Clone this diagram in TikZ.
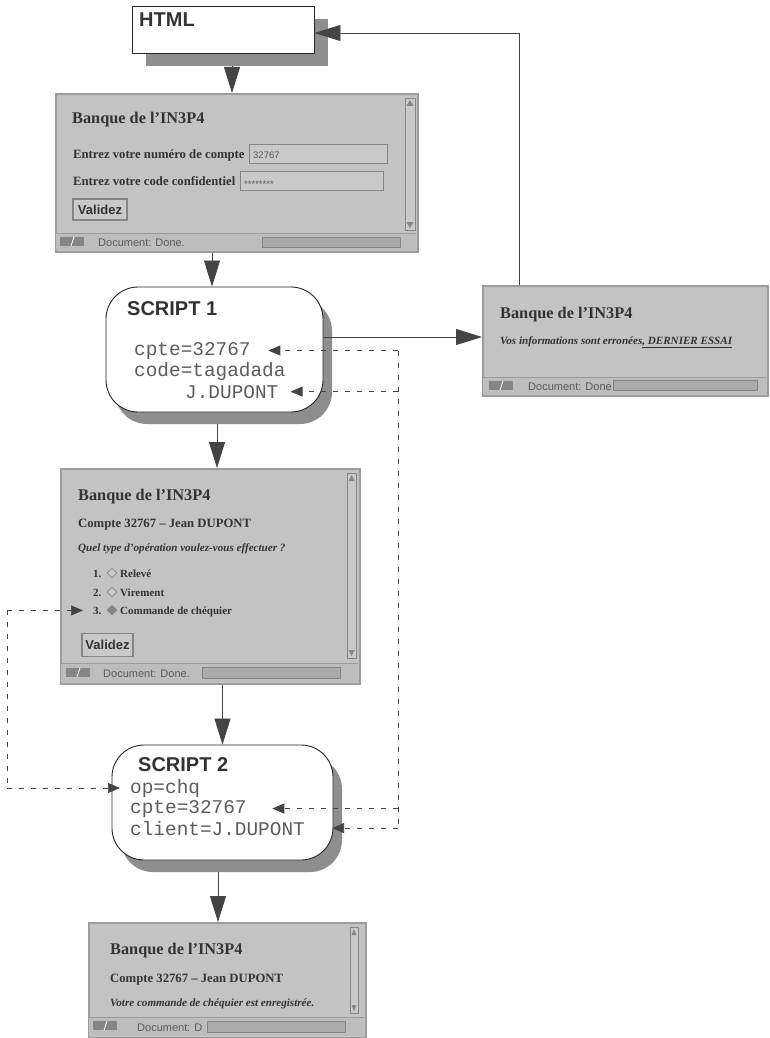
\documentclass[tikz,border=0pt]{standalone}
\usepackage{fontspec}
\setmainfont{Liberation Serif}
\setsansfont{Liberation Sans}
\setmonofont{Liberation Mono}
\usetikzlibrary{arrows.meta,shadows}
\definecolor{bgray}{HTML}{C3C3C3}
\definecolor{frame}{HTML}{9C9C9C}
\definecolor{shgray}{HTML}{8E8E8E}
\definecolor{txt}{HTML}{333333}
\definecolor{stxt}{HTML}{5A5A5A}
\definecolor{mtxt}{HTML}{5C5C5C}
\definecolor{fdark}{HTML}{858585}
\definecolor{fgray}{HTML}{C9C9C9}
\definecolor{pgray}{HTML}{AAAAAA}
\definecolor{sbg}{HTML}{BDBDBD}
\definecolor{lnk}{HTML}{444444}
\tikzset{
  win/.style={draw=frame, line width=2pt, fill=bgray, rectangle, inner sep=0pt, anchor=north west},
  wtitle/.style={anchor=base west, inner sep=0pt, text=txt, font=\bfseries\fontsize{16.3}{19}\selectfont},
  wlabel/.style={anchor=base west, inner sep=0pt, text=txt, font=\bfseries\fontsize{12.7}{15}\selectfont},
  witem/.style={anchor=base west, inner sep=0pt, text=txt, font=\bfseries\fontsize{11}{13}\selectfont},
  wital/.style={anchor=base west, inner sep=0pt, text=txt, font=\bfseries\itshape\fontsize{11.1}{13}\selectfont},
  wstat/.style={anchor=base west, inner sep=0pt, text=stxt, font=\sffamily\fontsize{11}{13}\selectfont},
  wval/.style={anchor=base west, inner sep=0pt, text=stxt, font=\sffamily\fontsize{9.5}{11}\selectfont},
  wbtn/.style={draw=fdark, fill=fgray, line width=1.2pt, inner sep=0pt, text=txt, font=\sffamily\bfseries\fontsize{13}{15}\selectfont},
  wfield/.style={draw=fdark, fill=fgray, line width=1pt, anchor=north west, inner sep=0pt},
  wprog/.style={draw=fdark, fill=pgray, line width=0.8pt, anchor=north west, inner sep=0pt},
  wscroll/.style={draw=fdark, fill=fgray, line width=0.8pt, anchor=north west, inner sep=0pt},
  scriptbox/.style={draw=black!85, line width=0.9pt, fill=white, rounded corners=32pt, inner sep=0pt,
     general shadow={fill=shgray, shadow xshift=9pt, shadow yshift=-12pt}},
  htmlbox/.style={draw=black!85, line width=0.9pt, fill=white, inner sep=0pt,
     general shadow={fill=shgray, shadow xshift=14pt, shadow yshift=-13pt}},
  stitle/.style={anchor=base west, inner sep=0pt, text=txt, font=\sffamily\bfseries\fontsize{20}{24}\selectfont},
  mono/.style={anchor=base west, inner sep=0pt, text=mtxt, font=\ttfamily\fontsize{19.4}{22}\selectfont},
  arr/.style={draw=lnk, line width=0.8pt, -{Triangle[length=26pt,width=16pt]}},
  dline/.style={draw=lnk, line width=0.7pt, dash pattern=on 5pt off 7pt},
  darr/.style={draw=lnk, line width=0.7pt, dash pattern=on 5pt off 7pt, -{Triangle[length=12pt,width=10pt]}},
}
\newcommand{\staticon}[2]{%
  \fill[fdark] (#1,#2) rectangle ++(24,9);
  \draw[white, line width=0.8pt] (#1+11,#2+9) -- (#1+14,#2);
}
\newcommand{\scrollarrows}[4]{% x, top y, width, bottom y
  \fill[fdark] (#1+#3/2,#2+2) -- (#1+1.5,#2+8) -- (#1+#3-1.5,#2+8) -- cycle;
  \fill[fdark] (#1+#3/2,#4-2) -- (#1+1.5,#4-8) -- (#1+#3-1.5,#4-8) -- cycle;
}
\begin{document}
\begin{tikzpicture}[x=1pt,y=-1pt]
\useasboundingbox (0,0) rectangle (769,1038);
\fill[white] (0,0) rectangle (769,1038);

% ---------- HTML ----------
\node[htmlbox, minimum width=182pt, minimum height=47pt] (html) at (223,29.5) {};
\node[stitle] (htmlt) at (139,27) {HTML};

% ---------- Browser 1 ----------
\node[win, minimum width=362pt, minimum height=158pt] (b1) at (55,93) {};
\node[wtitle] (b1t) at (72,124) {Banque de l’IN3P4};
\node[wlabel] (b1l1) at (73,158) {Entrez votre numéro de compte};
\node[wfield, minimum width=138pt, minimum height=19pt] (b1f1) at (249,144) {};
\node[wval] (b1v1) at (253,158) {32767};
\node[wlabel] (b1l2) at (73,185) {Entrez votre code confidentiel};
\node[wfield, minimum width=143pt, minimum height=19pt] (b1f2) at (240,171) {};
\node[wval] (b1v2) at (244,187) {********};
\node[wbtn, minimum width=54pt, minimum height=21pt] (b1b) at (100,209.5) {Validez};
\node[wscroll, minimum width=10pt, minimum height=132pt] (b1s) at (405,98) {};
\scrollarrows{405}{98}{10}{230}
\fill[sbg] (56,233) rectangle (416,250);
\draw[frame, line width=1pt] (56,233) -- (416,233);
\staticon{60}{237}
\node[wstat] (b1st) at (98,246) {Document: Done.};
\node[wprog, minimum width=138pt, minimum height=10pt] (b1p) at (262,237) {};

% ---------- SCRIPT 1 ----------
\node[scriptbox, minimum width=217pt, minimum height=125pt] (s1) at (214.5,349.5) {};
\node[stitle] (s1t) at (127,315) {SCRIPT 1};
\node[mono] (s1cpte) at (134,355) {cpte=32767};
\node[mono] (s1code) at (134,376) {code=tagadada};
\node[mono] (s1dup) at (185,398) {J.DUPONT};

% ---------- Error browser ----------
\node[win, minimum width=285pt, minimum height=110pt] (be) at (482,285) {};
\node[wtitle] (bet) at (500,318) {Banque de l’IN3P4};
\node[wital] (bei) at (500,344) {Vos informations sont erronées\underline{, DERNIER ESSAI}};
\fill[sbg] (483,377) rectangle (766,394);
\draw[frame, line width=1pt] (483,377) -- (766,377);
\staticon{489}{381}
\node[wstat] (best) at (528,390) {Document: Done};
\node[wprog, minimum width=144pt, minimum height=10pt] (bep) at (613,380) {};

% ---------- Browser 2 ----------
\node[win, minimum width=299pt, minimum height=215pt] (b2) at (60,468) {};
\node[wtitle] (b2t) at (78,500) {Banque de l’IN3P4};
\node[wlabel] (b2c) at (78,527) {Compte 32767 – Jean DUPONT};
\node[wital] (b2q) at (78,551) {Quel type d’opération voulez-vous effectuer ?};
\node[witem] (b2n1) at (93,577) {1.};
\node[witem] (b2n2) at (93,596) {2.};
\node[witem] (b2n3) at (93,614) {3.};
\draw[fdark, fill=fgray, line width=0.7pt] (107,573) -- (112,568.5) -- (117,573) -- (112,577.5) -- cycle;
\draw[fdark, fill=fgray, line width=0.7pt] (107,592) -- (112,587.5) -- (117,592) -- (112,596.5) -- cycle;
\draw[fdark, fill=fdark, line width=0.7pt] (107,610) -- (112,605.5) -- (117,610) -- (112,614.5) -- cycle;
\node[witem] (b2r1) at (120,577) {Relevé};
\node[witem] (b2r2) at (120,596) {Virement};
\node[witem] (b2r3) at (120,614) {Commande de chéquier};
\node[wbtn, minimum width=51pt, minimum height=23pt] (b2b) at (107.5,645) {Validez};
\node[wscroll, minimum width=9pt, minimum height=185pt] (b2s) at (347,473) {};
\scrollarrows{347}{473}{9}{658}
\fill[sbg] (61,663) rectangle (358,682);
\draw[frame, line width=1pt] (61,663) -- (358,663);
\staticon{66}{668}
\node[wstat] (b2st) at (103,677) {Document: Done.};
\node[wprog, minimum width=138pt, minimum height=11pt] (b2p) at (202,667) {};

% ---------- SCRIPT 2 ----------
\node[scriptbox, minimum width=221pt, minimum height=115pt] (s2) at (222.5,802.5) {};
\node[stitle] (s2t) at (138,771) {SCRIPT 2};
\node[mono] (s2op) at (130,793) {op=chq};
\node[mono] (s2cpte) at (130,813) {cpte=32767};
\node[mono] (s2cli) at (130,835) {client=J.DUPONT};

% ---------- Browser 3 ----------
\node[win, minimum width=277pt, minimum height=115pt] (b3) at (88,922) {};
\node[wtitle] (b3t) at (110,954) {Banque de l’IN3P4};
\node[wlabel] (b3c) at (110,982) {Compte 32767 – Jean DUPONT};
\node[wital] (b3i) at (110,1006) {Votre commande de chéquier est enregistrée.};
\node[wscroll, minimum width=8pt, minimum height=86pt] (b3s) at (350,927) {};
\scrollarrows{350}{927}{8}{1013}
\fill[sbg] (89,1017) rectangle (364,1036);
\draw[frame, line width=1pt] (89,1017) -- (364,1017);
\staticon{93}{1021}
\node[wstat] (b3st) at (137,1031) {Document: D};
\node[wprog, minimum width=138pt, minimum height=11pt] (b3p) at (207,1021) {};

% ---------- solid connectors ----------
\coordinate (htmls) at ([xshift=9pt,yshift=-13pt]html.south);
\draw[arr] (htmls) -- (htmls |- b1.north);
\coordinate (s1n) at ([xshift=-2.5pt]s1.north);
\draw[arr] (s1n |- b1.south) -- (s1n);
\coordinate (s1s) at ([xshift=2.5pt,yshift=-12pt]s1.south);
\draw[arr] (s1s) -- (s1s |- b2.north);
\draw[arr] (s2.north |- b2.south) -- (s2.north);
\coordinate (s2s) at ([xshift=-4.5pt,yshift=-12pt]s2.south);
\draw[arr] (s2s) -- (s2s |- b3.north);
\coordinate (s1e) at ([yshift=12.5pt]s1.east);
\draw[arr] (s1e) -- (s1e -| be.west);
\coordinate (ben) at ([xshift=-106.5pt]be.north);
\coordinate (hte) at ([yshift=-3.5pt]html.east);
\draw[arr] (ben) |- (hte);

% ---------- dashed connectors ----------
\coordinate (rx) at (398,0);
\draw[dline] (rx |- s1cpte.east) -- (rx |- s2cli.east);
\draw[darr] (rx |- s1cpte.east) -- ([xshift=17.5pt]s1cpte.east);
\draw[darr] (rx |- s1dup.east) -- ([xshift=12pt]s1dup.east);
\draw[darr] (rx |- s2cpte.east) -- ([xshift=25.5pt]s2cpte.east);
\draw[darr] (rx |- s2cli.east) -- ([xshift=27pt]s2cli.east);
\coordinate (lx) at (7,0);
\draw[dline] (lx |- b2n3.west) -- (lx |- s2op.west);
\draw[darr] (lx |- b2n3.west) -- ([xshift=-10pt]b2n3.west);
\draw[darr] (lx |- s2op.west) -- ([xshift=-10pt]s2op.west);
\end{tikzpicture}
\end{document}
